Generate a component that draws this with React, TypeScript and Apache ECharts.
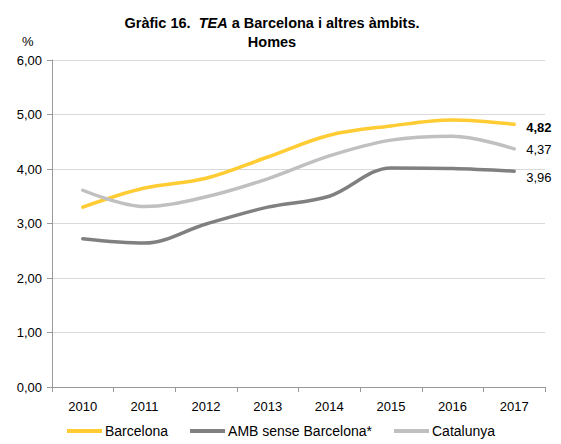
import React, { useEffect, useRef } from "react";
import * as echarts from "echarts";

const years = ["2010", "2011", "2012", "2013", "2014", "2015", "2016", "2017"];
const barcelona = [3.3, 3.65, 3.83, 4.22, 4.62, 4.79, 4.9, 4.82];
const amb = [2.72, 2.64, 2.99, 3.3, 3.5, 4.02, 4.01, 3.96];
const catalunya = [3.61, 3.31, 3.49, 3.82, 4.24, 4.53, 4.6, 4.37];
const yTicks = [0, 1, 2, 3, 4, 5, 6];

const FONT = "'Liberation Sans', Arial, sans-serif";

function fmt(v: number) {
  return v.toFixed(2).replace(".", ",");
}

export default function App() {
  const ref = useRef<HTMLDivElement>(null);
  useEffect(() => {
    const chart = echarts.init(ref.current!, undefined, { renderer: "svg" });
    const mk = (name: string, data: number[], color: string, bold: boolean, dy: number) => ({
      name,
      type: "line",
      data,
      smooth: 0.35,
      symbol: "none",
      lineStyle: { color, width: 3.5, cap: "round" },
      itemStyle: { color },
      endLabel: {
        show: true,
        distance: 12,
        offset: [0, dy],
        formatter: (p: any) => fmt(p.value),
        color: "#000",
        fontFamily: FONT,
        fontSize: 13,
        fontWeight: bold ? "bold" : "normal",
      },
    });
    chart.setOption({
      animation: false,
      textStyle: { fontFamily: FONT },
      title: {
        text: "{b|Gràfic 16.  }{i|TEA}{b| a Barcelona i altres àmbits.}\n{b|Homes}",
        left: 267,
        top: 8,
        textAlign: "center",
        textStyle: {
          rich: {
            b: { fontFamily: FONT, fontSize: 14.5, fontWeight: "bold", color: "#000", lineHeight: 19 },
            i: { fontFamily: FONT, fontSize: 14.5, fontWeight: "bold", fontStyle: "italic", color: "#000", lineHeight: 19 },
          },
        },
      },
      graphic: [
        {
          type: "text",
          left: 22,
          top: 35,
          style: { text: "%", fontFamily: FONT, fontSize: 13, fill: "#000" },
        },
      ],
      legend: {
        bottom: 1,
        left: 62,
        itemWidth: 35,
        itemHeight: 4,
        itemGap: 22,
        icon: "rect",
        textStyle: { fontFamily: FONT, fontSize: 14, color: "#000", padding: [0, 0, 0, -2] },
        data: ["Barcelona", "AMB sense Barcelona*", "Catalunya"],
      },
      grid: { left: 52, right: 16, top: 60, bottom: 57 },
      xAxis: {
        type: "category",
        data: years,
        boundaryGap: true,
        axisLine: { lineStyle: { color: "#999", width: 1 } },
        axisTick: { show: true, length: 5, lineStyle: { color: "#999" } },
        axisLabel: { color: "#000", fontFamily: FONT, fontSize: 13, margin: 13 },
      },
      yAxis: {
        type: "value",
        min: yTicks[0],
        max: yTicks[yTicks.length - 1],
        interval: 1,
        axisLine: { show: true, lineStyle: { color: "#999", width: 1 } },
        axisTick: { show: true, length: 5, lineStyle: { color: "#999" } },
        splitLine: { lineStyle: { color: "#d9d9d9", width: 1 } },
        axisLabel: {
          color: "#000",
          fontFamily: FONT,
          fontSize: 13,
          margin: 10,
          formatter: (v: number) => fmt(v),
        },
      },
      series: [
        mk("Barcelona", barcelona, "#FFCC33", true, 3),
        mk("AMB sense Barcelona*", amb, "#808080", false, 6),
        mk("Catalunya", catalunya, "#C0C0C0", false, 1),
      ],
    });
    return () => chart.dispose();
  }, []);
  return (
    <div
      ref={ref}
      style={{ position: "absolute", left: 0, top: 0, width: 561, height: 444 }}
    />
  );
}
